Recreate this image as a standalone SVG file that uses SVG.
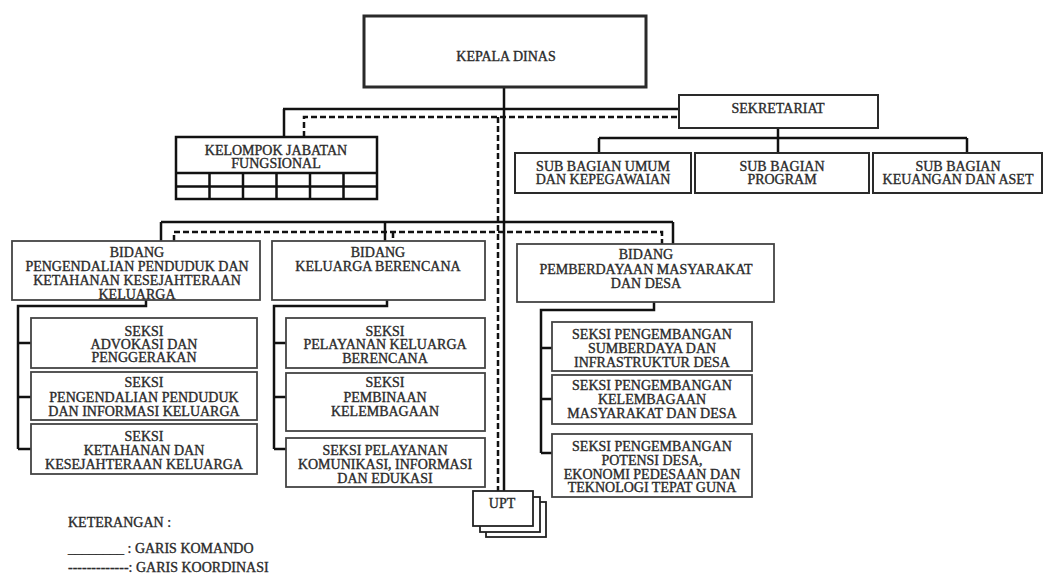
<svg xmlns="http://www.w3.org/2000/svg" width="1043" height="577" viewBox="0 0 1043 577">
<style>
text{font-family:"Liberation Serif","Times New Roman",serif;font-size:14px;fill:#2a2a2a;stroke:#2a2a2a;stroke-width:0.35;text-anchor:middle}
.box{fill:#fff;stroke:#2a2a2a;stroke-width:2}
.bx{fill:#fff;stroke:#444;stroke-width:1.8}
.solid{fill:none;stroke:#111;stroke-width:2.5}
.dash{fill:none;stroke:#111;stroke-width:2.5;stroke-dasharray:6 3}
.grid{fill:none;stroke:#111;stroke-width:2.5}
.leg{text-anchor:start}
</style>
<rect width="1043" height="577" fill="#fff"/>
<g id="connectors">
<path class="solid" d="M504,87V491 M283,109H679 M284,109V137 M778,128V153 M599,138H967 M599,138V153 M967,138V153 M161,222H673 M161,222V241 M385,222V241 M673,222V244 M146,300V306H18V449 M18,343H31 M18,397H31 M18,449H31 M387,300V306H274V449 M274,343H286 M274,397H286 M274,449H286 M654,302V310H541V453 M541,348H552 M541,399H552 M541,453H552"/>
<path class="dash" d="M498,117V491 M304,137V117H679 M174,241V232H662V244 M393,232V241"/>
</g>
<g id="kepala-dinas"><rect class="box" x="364" y="16" width="282" height="71" style="stroke-width:3"/><text x="506" y="61">KEPALA DINAS</text></g>
<g id="sekretariat"><rect class="box" x="679" y="95" width="199" height="33"/><text x="778" y="112.5">SEKRETARIAT</text></g>
<g id="sub-umum"><rect class="box" x="515" y="153" width="176" height="40"/><text><tspan x="603" y="170.5">SUB BAGIAN UMUM</tspan><tspan x="603" y="184">DAN KEPEGAWAIAN</tspan></text></g>
<g id="sub-program"><rect class="box" x="695" y="153" width="174" height="40"/><text><tspan x="782" y="170.5">SUB BAGIAN</tspan><tspan x="782" y="184">PROGRAM</tspan></text></g>
<g id="sub-keuangan"><rect class="box" x="873" y="153" width="169" height="40"/><text><tspan x="958" y="170.5">SUB BAGIAN</tspan><tspan x="958" y="184">KEUANGAN DAN ASET</tspan></text></g>
<g id="kelompok-jabatan">
<rect class="grid" x="176" y="137" width="201" height="62" fill="#fff"/>
<path class="grid" d="M176,173H377 M176,186.5H377 M209.5,173V199 M243,173V199 M276.5,173V199 M310,173V199 M343.5,173V199"/>
<text><tspan x="276" y="155">KELOMPOK JABATAN</tspan><tspan x="276" y="168">FUNGSIONAL</tspan></text>
</g>
<g id="bidang-pengendalian"><rect class="bx" x="12" y="241" width="248" height="59"/><text><tspan x="137" y="257">BIDANG</tspan><tspan x="137" y="270.5">PENGENDALIAN PENDUDUK DAN</tspan><tspan x="137" y="284.5">KETAHANAN KESEJAHTERAAN</tspan><tspan x="137" y="298.5">KELUARGA</tspan></text></g>
<g id="bidang-kb"><rect class="bx" x="272" y="241" width="213" height="59"/><text><tspan x="378" y="257">BIDANG</tspan><tspan x="378" y="270.5">KELUARGA BERENCANA</tspan></text></g>
<g id="bidang-pemberdayaan"><rect class="bx" x="517" y="244" width="257" height="58"/><text><tspan x="646" y="259">BIDANG</tspan><tspan x="646" y="273.5">PEMBERDAYAAN MASYARAKAT</tspan><tspan x="646" y="287.5">DAN DESA</tspan></text></g>
<g id="seksi-advokasi"><rect class="bx" x="31" y="318" width="226" height="50"/><text><tspan x="144" y="335.5">SEKSI</tspan><tspan x="144" y="348.5">ADVOKASI DAN</tspan><tspan x="144" y="362">PENGGERAKAN</tspan></text></g>
<g id="seksi-pengendalian"><rect class="bx" x="31" y="372" width="226" height="48"/><text><tspan x="144" y="387">SEKSI</tspan><tspan x="144" y="401.5">PENGENDALIAN PENDUDUK</tspan><tspan x="144" y="415.5">DAN INFORMASI KELUARGA</tspan></text></g>
<g id="seksi-ketahanan"><rect class="bx" x="31" y="424" width="226" height="50"/><text><tspan x="144" y="441">SEKSI</tspan><tspan x="144" y="455">KETAHANAN DAN</tspan><tspan x="144" y="469">KESEJAHTERAAN KELUARGA</tspan></text></g>
<g id="seksi-pelayanan-kb"><rect class="bx" x="286" y="318" width="199" height="50"/><text><tspan x="385" y="335.5">SEKSI</tspan><tspan x="385" y="349">PELAYANAN KELUARGA</tspan><tspan x="385" y="363">BERENCANA</tspan></text></g>
<g id="seksi-pembinaan"><rect class="bx" x="286" y="373" width="199" height="58"/><text><tspan x="385" y="386.5">SEKSI</tspan><tspan x="385" y="401.5">PEMBINAAN</tspan><tspan x="385" y="415.5">KELEMBAGAAN</tspan></text></g>
<g id="seksi-kie"><rect class="bx" x="286" y="438" width="199" height="49"/><text><tspan x="385" y="455">SEKSI PELAYANAN</tspan><tspan x="385" y="469">KOMUNIKASI, INFORMASI</tspan><tspan x="385" y="482.5">DAN EDUKASI</tspan></text></g>
<g id="seksi-sumberdaya"><rect class="bx" x="552" y="322" width="200" height="49"/><text><tspan x="652" y="339">SEKSI PENGEMBANGAN</tspan><tspan x="652" y="353">SUMBERDAYA DAN</tspan><tspan x="652" y="366.5">INFRASTRUKTUR DESA</tspan></text></g>
<g id="seksi-kelembagaan"><rect class="bx" x="552" y="375" width="200" height="49"/><text><tspan x="652" y="390">SEKSI PENGEMBANGAN</tspan><tspan x="652" y="404">KELEMBAGAAN</tspan><tspan x="652" y="418">MASYARAKAT DAN DESA</tspan></text></g>
<g id="seksi-potensi"><rect class="bx" x="552" y="434" width="200" height="63"/><text><tspan x="652" y="451">SEKSI PENGEMBANGAN</tspan><tspan x="652" y="465">POTENSI DESA,</tspan><tspan x="652" y="478.5">EKONOMI PEDESAAN DAN</tspan><tspan x="652" y="492">TEKNOLOGI TEPAT GUNA</tspan></text></g>
<g id="upt">
<rect class="bx" x="486" y="502" width="60" height="35" style="stroke:#222"/>
<rect class="bx" x="480" y="497" width="60" height="35" style="stroke:#222"/>
<rect class="bx" x="473" y="491" width="60" height="35" style="stroke:#222"/>
<text x="502" y="507.5">UPT</text>
</g>
<g id="legend">
<text class="leg" x="68" y="526.5">KETERANGAN :</text>
<text class="leg" x="68" y="552.5">________ : GARIS KOMANDO</text>
<text class="leg" x="68" y="572">-------------: GARIS KOORDINASI</text>
</g>
</svg>
